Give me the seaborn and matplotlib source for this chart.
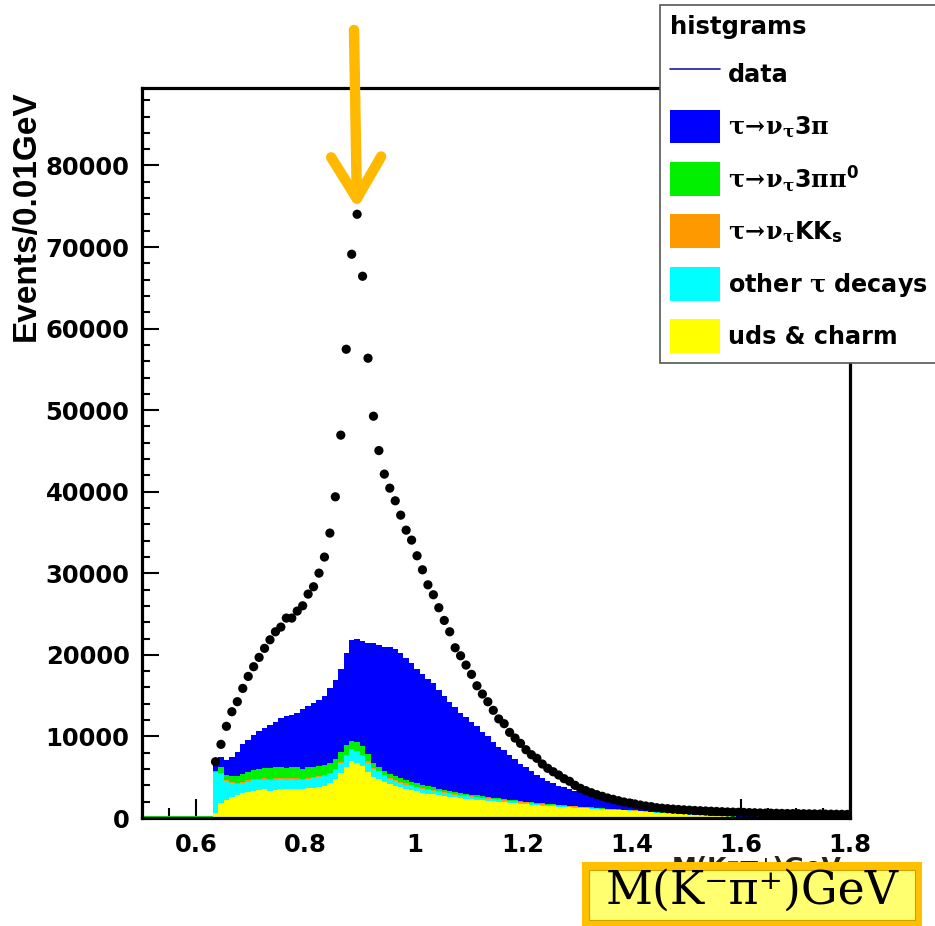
import numpy as np
import pandas as pd
import matplotlib
matplotlib.use("Agg")
import matplotlib.pyplot as plt
import seaborn as sns
from matplotlib.patches import Patch, Rectangle
from matplotlib.lines import Line2D
from matplotlib.ticker import MultipleLocator
from matplotlib.transforms import Bbox

# ---------------- data ----------------
# histogram bins: 0.50 .. 1.80 GeV, width 0.01 GeV (130 bins)
bin_edges = np.round(np.linspace(0.50, 1.80, 131), 3)
bin_centers = np.round(bin_edges[:-1] + 0.005, 3)

# uds & charm (yellow)
mc_uds = [120, 120, 120, 120, 120, 120, 120, 120, 120, 120, 120, 120, 120,
          600, 1900, 2200, 2600, 2800, 3100, 3200, 3350, 3430, 3500,
          3350, 3430, 3500, 3500, 3600, 3550, 3550, 3640, 3640, 3760,
          3920, 4250, 4740, 5470, 6290, 7030, 6780, 6370, 5680, 5070,
          4740, 4400, 4150, 3950, 3750, 3550, 3400, 3250, 3100, 3000,
          2900, 2800, 2700, 2600, 2520, 2450, 2380, 2300, 2230, 2170,
          2100, 2040, 1980, 1920, 1860, 1790, 1730, 1680, 1620, 1570,
          1520, 1470, 1430, 1390, 1350, 1310, 1270, 1230, 1190, 1150,
          1100, 1060, 1020, 990, 950, 920, 890, 860, 810, 760,
          710, 660, 620, 570, 530, 490, 450, 410, 370, 330,
          300, 270, 240, 210, 190, 170, 150, 130, 110, 90,
          80, 70, 60, 50, 45, 40, 35, 30, 30, 25,
          25, 20, 20, 15, 15, 10, 10]

# other tau decays (cyan)
mc_other = [0, 0, 0, 0, 0, 0, 0, 0, 0, 0, 0, 0, 0,
            5000, 3500, 2300, 1700, 1400, 1200, 1250, 1250, 1220, 1200,
            1300, 1270, 1250, 1200, 1200, 1150, 1100, 1160, 1210, 1240,
            1180, 1150, 1160, 1230, 1310, 1270, 1320, 1230, 1120, 930,
            860, 700, 650, 600, 550, 550, 500, 450, 450, 400,
            400, 380, 350, 350, 330, 300, 280, 280, 270, 250,
            240, 230, 220, 210, 200, 190, 170, 160, 150, 140,
            130, 120, 110, 100, 100, 90, 90, 80, 80, 70,
            70, 60, 60, 50, 50, 50, 40, 40, 40, 30,
            30, 30, 30, 20, 20, 20, 20, 20, 20, 10,
            10, 10, 10, 10, 10, 10, 10, 10, 10, 10,
            0, 0, 0, 0, 0, 0, 0, 0, 0, 0,
            0, 0, 0, 0, 0, 0, 0]

# tau -> nu KKs (orange)
mc_kks = [0, 0, 0, 0, 0, 0, 0, 0, 0, 0, 0, 0, 0,
          100, 100, 150, 150, 150, 150, 150, 150, 150, 150,
          150, 150, 150, 150, 150, 150, 150, 150, 150, 150,
          150, 150, 150, 150, 150, 150, 150, 150, 150, 150,
          150, 150, 150, 150, 150, 150, 150, 150, 130, 130,
          120, 120, 120, 110, 100, 100, 100, 90, 90, 90,
          90, 80, 80, 80, 70, 70, 70, 70, 60, 60,
          60, 60, 60, 50, 50, 50, 50, 40, 40, 40,
          40, 30, 30, 30, 30, 30, 20, 20, 20, 20,
          20, 20, 10, 10, 10, 10, 10, 10, 10, 10,
          10, 10, 0, 0, 0, 0, 0, 0, 0, 0,
          0, 0, 0, 0, 0, 0, 0, 0, 0, 0,
          0, 0, 0, 0, 0, 0, 0]

# tau -> nu 3pi pi0 (green)
mc_3pipi0 = [80, 80, 80, 80, 80, 80, 80, 80, 80, 80, 80, 80, 80,
             100, 800, 650, 750, 800, 950, 1000, 1150, 1150, 1250,
             1300, 1350, 1300, 1300, 1300, 1350, 1250, 1250, 1300, 1250,
             1250, 1200, 1200, 1200, 1150, 950, 1050, 1050, 850, 650,
             450, 550, 500, 450, 450, 400, 400, 400, 370, 370,
             330, 300, 280, 240, 230, 220, 210, 200, 190, 180,
             170, 160, 150, 140, 130, 130, 120, 110, 110, 100,
             90, 80, 80, 70, 70, 60, 60, 50, 50, 50,
             40, 40, 40, 30, 30, 30, 30, 30, 20, 20,
             20, 20, 20, 20, 20, 10, 10, 10, 10, 10,
             10, 10, 10, 10, 10, 10, 10, 0, 0, 0,
             0, 0, 0, 0, 0, 0, 0, 0, 0, 0,
             0, 0, 0, 0, 0, 0, 0]

# tau -> nu 3pi (blue)
mc_3pi = [0, 0, 0, 0, 0, 0, 0, 0, 0, 0, 0, 0, 0,
          1500, 1200, 1800, 2300, 2950, 3700, 4000, 4300, 4750, 4900,
          5300, 5600, 6000, 6350, 6350, 6700, 7350, 7500, 7800, 8100,
          8450, 9150, 9650, 10250, 11300, 12400, 12700, 12900, 13700, 14600,
          15000, 15200, 15550, 15550, 15300, 14950, 14550, 14050, 13650, 13100,
          12750, 12100, 11500, 10950, 10370, 9830, 9430, 8930, 8470, 7910,
          7400, 6840, 6320, 5950, 5430, 5010, 4570, 4240, 3810, 3420,
          3130, 2840, 2570, 2350, 2200, 2080, 1900, 1750, 1600, 1450,
          1350, 1250, 1130, 1030, 920, 820, 730, 650, 600, 560,
          520, 480, 440, 410, 380, 350, 320, 290, 260, 240,
          220, 200, 180, 160, 150, 140, 130, 120, 110, 100,
          90, 80, 70, 60, 55, 50, 45, 40, 35, 30,
          30, 25, 25, 20, 20, 15, 15]

# data points: centres 0.635 .. 1.795
data_x = [float(v) for v in bin_centers[13:]]
data_y = [6900, 9030, 11240, 13030, 14260, 15890, 17360, 18550, 19690, 20800,
          21850, 22830, 23410, 24510, 24510, 25370, 26020, 27450, 28350, 30020,
          31990, 34930, 39380, 46940, 57470, 69120, 74020, 66420, 56370, 49260,
          45050, 42160, 40440, 38890, 37130, 35290, 34070, 32150, 30430, 28590,
          27370, 25780, 24220, 22830, 20870, 19890, 18750, 17610, 16210, 15200,
          14250, 13200, 12150, 11560, 10500, 9800, 9150, 8370, 7760, 7320,
          6620, 6090, 5670, 5270, 4820, 4500, 4010, 3640, 3350, 3100,
          2860, 2660, 2450, 2290, 2120, 1960, 1840, 1720, 1590, 1470,
          1390, 1260, 1200, 1140, 1090, 1040, 1000, 960, 920, 890,
          860, 830, 800, 770, 740, 720, 700, 680, 660, 640,
          620, 600, 590, 580, 560, 550, 540, 530, 520, 510,
          500, 490, 480, 470, 460, 450, 440]

x_tick_vals = [0.6, 0.8, 1.0, 1.2, 1.4, 1.6, 1.8]
x_tick_labels = ["0.6", "0.8", "1", "1.2", "1.4", "1.6", "1.8"]
y_tick_vals = [0, 10000, 20000, 30000, 40000, 50000, 60000, 70000, 80000]
y_tick_labels = ["0", "10000", "20000", "30000", "40000", "50000", "60000", "70000", "80000"]

comp_order = ["tau3pi", "tau3pipi0", "tauKKs", "other", "uds"]
comp_values = [mc_3pi, mc_3pipi0, mc_kks, mc_other, mc_uds]
comp_colors = {"tau3pi": "#0000FF", "tau3pipi0": "#00F000", "tauKKs": "#FF9900",
               "other": "#00FFFF", "uds": "#FFFF00"}
legend_labels = ["data",
                 r"$τ\!\rightarrow\!ν_{τ}$3$π$",
                 r"$τ\!\rightarrow\!ν_{τ}$3$ππ^{\mathbf{0}}$",
                 r"$τ\!\rightarrow\!ν_{τ}$KK$_{\mathbf{s}}$",
                 r"other $τ$ decays",
                 "uds & charm"]

# ---------------- style ----------------
sns.set_theme(style="white")
plt.rcParams["font.family"] = ["DejaVu Sans"]
plt.rcParams["font.weight"] = "bold"
plt.rcParams["text.color"] = "black"
plt.rcParams["xtick.labelcolor"] = "black"
plt.rcParams["ytick.labelcolor"] = "black"
plt.rcParams["axes.labelcolor"] = "black"
plt.rcParams["mathtext.fontset"] = "custom"
plt.rcParams["mathtext.rm"] = "DejaVu Serif"
plt.rcParams["mathtext.it"] = "DejaVu Serif"
plt.rcParams["mathtext.bf"] = "DejaVu Sans:bold"

W, H = 935, 926
fig = plt.figure(figsize=(W / 100, H / 100), dpi=100)
fig.patch.set_facecolor("white")
ax = fig.add_axes([142 / W, 108 / H, 708 / W, 730 / H])

rows = []
for name, vals in zip(comp_order, comp_values):
    for c, v in zip(bin_centers, vals):
        rows.append({"mass": float(c), "events": float(v), "component": name})
df = pd.DataFrame(rows)

sns.histplot(data=df, x="mass", weights="events", hue="component",
             hue_order=comp_order, multiple="stack", bins=[float(e) for e in bin_edges],
             element="step", fill=True, linewidth=0, alpha=1,
             palette=comp_colors, legend=False, ax=ax)

sns.scatterplot(x=data_x, y=data_y, color="black", s=44, edgecolor="none",
                linewidth=0, ax=ax, zorder=5, legend=False)

ax.set_xlim(0.5, 1.8)
ax.set_ylim(0, 89500)
ax.set_xlabel("")
ax.set_ylabel("")
ax.set_xticks(x_tick_vals)
ax.set_xticklabels(x_tick_labels)
ax.set_yticks(y_tick_vals)
ax.set_yticklabels(y_tick_labels)
ax.xaxis.set_minor_locator(MultipleLocator(0.05))
ax.yaxis.set_minor_locator(MultipleLocator(2000))
ax.tick_params(which="both", direction="in", bottom=True, left=True,
               top=False, right=False, color="black", width=1.5)
ax.tick_params(axis="x", which="major", length=14, labelsize=17.5, pad=11)
ax.tick_params(axis="x", which="minor", length=7)
ax.tick_params(axis="y", which="major", length=12, labelsize=17.5, pad=9)
ax.tick_params(axis="y", which="minor", length=6)
for s in ax.spines.values():
    s.set_linewidth(2.3)
    s.set_color("black")
    s.set_visible(True)

# y title
fig.text(26 / W, 1 - 90 / H, "Events/0.01GeV", rotation=90, ha="center",
         va="top", family="Liberation Sans", weight="bold", size=24)

# peak arrow
imax = int(np.argmax(data_y))
ax.annotate("", xy=(data_x[imax], data_y[imax]), xycoords="data",
            xytext=(354, H - 30), textcoords="figure pixels",
            arrowprops=dict(arrowstyle="->,head_length=2.5,head_width=1.5",
                            color="#FFB900", lw=7.5, shrinkA=0, shrinkB=4,
                            capstyle="round", joinstyle="round"),
            annotation_clip=False)

# legend
handles = [Line2D([0], [0], color="#1A1AA0", lw=1.2)]
handles += [Patch(facecolor=comp_colors[n], edgecolor="none") for n in comp_order]
leg = fig.legend(handles, legend_labels, loc="upper left",
                 bbox_to_anchor=(660 / W, 1 - 5 / H), bbox_transform=fig.transFigure,
                 title="histgrams", alignment="left", frameon=True, fancybox=False,
                 edgecolor="#555555", framealpha=1, borderaxespad=0,
                 prop=dict(weight="bold", size=17.2),
                 title_fontproperties=dict(weight="bold", size=17.5),
                 handlelength=2.1, handleheight=1.8, handletextpad=0.35,
                 labelspacing=0.78, borderpad=0.4)
leg.get_frame().set_linewidth(1.2)

# original (mostly hidden) x title, only its top edge peeks above the box
hidden = fig.text(842 / W, 1 - 856 / H, "M(K⁻π⁺)GeV", ha="right", va="top",
                  size=18, weight="bold", color="#222222", zorder=3)
hidden.set_clip_box(Bbox.from_extents(0, H - 862, W, H))
hidden.set_clip_on(True)

# overlay label box
fig.patches.append(Rectangle((582 / W, 0), (922 - 582) / W, (926 - 862) / H,
                             transform=fig.transFigure, facecolor="#FFC000",
                             edgecolor="none", zorder=10))
fig.patches.append(Rectangle((589 / W, (926 - 920) / H), (915 - 589) / W, (920 - 870) / H,
                             transform=fig.transFigure, facecolor="#FFFF70",
                             edgecolor="#D0A000", lw=0.8, zorder=11))
fig.text((589 + 915) / 2 / W, (926 - 904) / H, "M(K⁻π⁺)GeV", ha="center",
         va="baseline", family="DejaVu Serif", weight="normal", size=33,
         color="black", zorder=12)

fig.savefig("out.png", dpi=100)
